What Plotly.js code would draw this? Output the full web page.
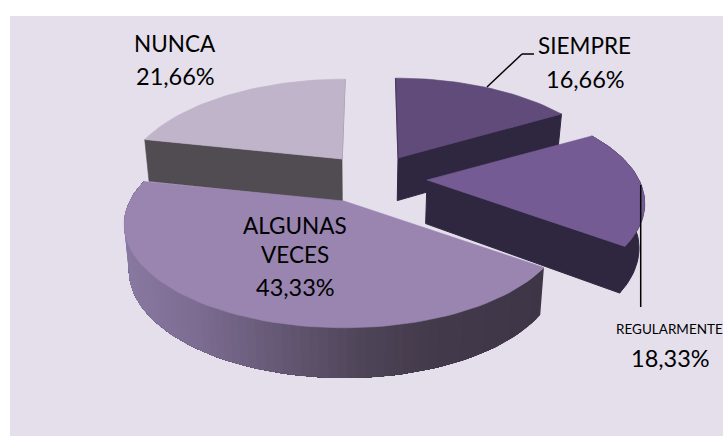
<!DOCTYPE html>
<html>
<head>
<meta charset="utf-8">
<script src="https://cdn.plot.ly/plotly-3.0.1.min.js"></script>
<style>html,body{margin:0;padding:0;background:#fff}#chart{width:723px;height:436px}</style>
</head>
<body>
<div id="chart"></div>
<script>
// --- data ---
var categories = ["SIEMPRE", "REGULARMENTE", "ALGUNAS VECES", "NUNCA"];
var percentages = [16.66, 18.33, 43.33, 21.66];

// --- look ---
var topColors = ["#604b7a", "#755b94", "#9985b0", "#bfb4ca"];
var cutColors = ["#2f2640", "#2f2640", null, "#504c52"];
var apexes = [[398, 158], [427, 180], [344, 201], [342, 159]];
var skews = [-2.5, 0, 0, 3];
var widen = [1, 1, 1.01, 1];
var FONT = "Lato, Carlito, Calibri, sans-serif";
var RX = 212, RY = 98, PERSP = 0.227;

function project(i, deg) {
  var apex = apexes[i];
  var t = deg * Math.PI / 180, u = Math.sin(t), v = Math.cos(t), s = 1 + PERSP * v;
  return [apex[0] + RX * widen[i] * u / s + skews[i] * v * (1 + PERSP) / s, apex[1] - RY * v / s];
}
function lower(p) { return [p[0] + 0.02 * (360 - p[0]), p[1] + 35.5 + 0.045 * p[1]]; }
function arc(i, a0, a1) {
  var n = Math.max(2, Math.ceil(Math.abs(a1 - a0) / 2)), out = [];
  for (var k = 0; k <= n; k++) out.push(project(i, a0 + (a1 - a0) * k / n));
  return out;
}
function poly(points, color, w) {
  return {
    type: "scatter", mode: "lines", hoverinfo: "skip", showlegend: false,
    x: points.map(function (p) { return p[0]; }).concat([points[0][0]]),
    y: points.map(function (p) { return p[1]; }).concat([points[0][1]]),
    fill: "toself", fillcolor: color,
    line: { color: color, width: w === undefined ? 0.6 : w }
  };
}
function edge(a, b, color, w) {
  return {
    type: "scatter", mode: "lines", hoverinfo: "skip", showlegend: false,
    x: [a[0], b[0]], y: [a[1], b[1]], line: { color: color, width: w }
  };
}
var wallStops = [[130, [136, 120, 160]], [200, [123, 107, 144]], [300, [95, 83, 109]],
                 [360, [79, 69, 89]], [430, [67, 58, 75]], [545, [62, 53, 70]]];
function wallColor(x) {
  var s = wallStops;
  if (x <= s[0][0]) return "rgb(" + s[0][1].join(",") + ")";
  for (var i = 1; i < s.length; i++) {
    if (x <= s[i][0]) {
      var f = (x - s[i - 1][0]) / (s[i][0] - s[i - 1][0]);
      var c = s[i][1].map(function (b, k) { return Math.round(s[i - 1][1][k] + (b - s[i - 1][1][k]) * f); });
      return "rgb(" + c.join(",") + ")";
    }
  }
  return "rgb(" + s[s.length - 1][1].join(",") + ")";
}

// --- build slices from the values, clockwise from 12 o'clock ---
var total = percentages.reduce(function (a, b) { return a + b; }, 0);
var ranges = [], acc = 0;
percentages.forEach(function (p) {
  var a0 = acc / total * 360; acc += p;
  ranges.push([a0, acc / total * 360]);
});
var traces = [];
[3, 0, 1, 2].forEach(function (i) {
  var apex = apexes[i], a0 = ranges[i][0], a1 = ranges[i][1];
  var curve = arc(i, a0, a1);
  // cut face
  if (i === 3) {
    var s = project(i, a0);
    traces.push(poly([s, apex, lower(apex), lower(s)], cutColors[i]));
  }
  if (i === 0 || i === 1) {
    var e = project(i, a1);
    traces.push(poly([apex, e, lower(e), lower(apex)], cutColors[i], 1));
  }
  // outer wall
  if (i === 1) {
    traces.push(poly(curve.concat(curve.map(lower).reverse()), cutColors[i], 1));
  }
  if (i === 2) {
    // each band covers everything still to come, so no seams show between bands
    for (var k = 0; k < curve.length - 1; k++) {
      var rest = curve.slice(k);
      traces.push(poly(rest.concat(rest.map(lower).reverse()),
        wallColor((curve[k][0] + curve[k + 1][0]) / 2), 0));
    }
  }
  // thin side strips seen edge-on
  if (i === 3) traces.push(edge(apex, project(i, a1), "#9d95a3", 1.5));
  // top face
  traces.push(poly([apex].concat(curve), topColors[i]));
  if (i === 0) traces.push(edge(project(i, a0), apex, "#4a3a60", 1.2));
});

function pct(v) { return v.toFixed(2).replace(".", ",") + "%"; }
function label(text, x, y, size) {
  return {
    text: text, x: x, y: y, xref: "x", yref: "y", showarrow: false,
    xanchor: "center", yanchor: "middle",
    font: { family: FONT, size: size, color: "#000000" }
  };
}
var annotations = [
  label(categories[3], 175, 43, 22.5),
  label(pct(percentages[3]), 175, 76, 23.5),
  label(categories[0], 584, 45, 22.5),
  label(pct(percentages[0]), 585, 79, 23.5),
  label(categories[2].split(" ")[0], 295, 225, 22.5),
  label(categories[2].split(" ")[1], 295, 254, 22.5),
  label(pct(percentages[2]), 295, 287, 23.5),
  label(categories[1], 669, 329, 13.5),
  label(pct(percentages[1]), 670, 358, 23.5)
];
var blk = { color: "#000000", width: 1.5 };
var shapes = [
  { type: "rect", xref: "x", yref: "y", x0: 10, x1: 723, y0: 16, y1: 436, layer: "below",
    fillcolor: "#e5dfec", line: { width: 0 } },
  { type: "line", xref: "x", yref: "y", x0: 487, y0: 87, x1: 522, y1: 54, line: blk },
  { type: "line", xref: "x", yref: "y", x0: 522, y0: 54, x1: 534, y1: 54, line: blk },
  { type: "line", xref: "x", yref: "y", x0: 640.7, y0: 185, x1: 640.7, y1: 307, line: blk }
];
var layout = {
  width: 723, height: 436, margin: { l: 0, r: 0, t: 0, b: 0 },
  paper_bgcolor: "#ffffff", plot_bgcolor: "#ffffff", showlegend: false,
  xaxis: { range: [0, 723], visible: false, fixedrange: true },
  yaxis: { range: [436, 0], visible: false, fixedrange: true },
  shapes: shapes, annotations: annotations, hovermode: false
};
Plotly.newPlot("chart", traces, layout, { displayModeBar: false, staticPlot: true });
</script>
</body>
</html>
